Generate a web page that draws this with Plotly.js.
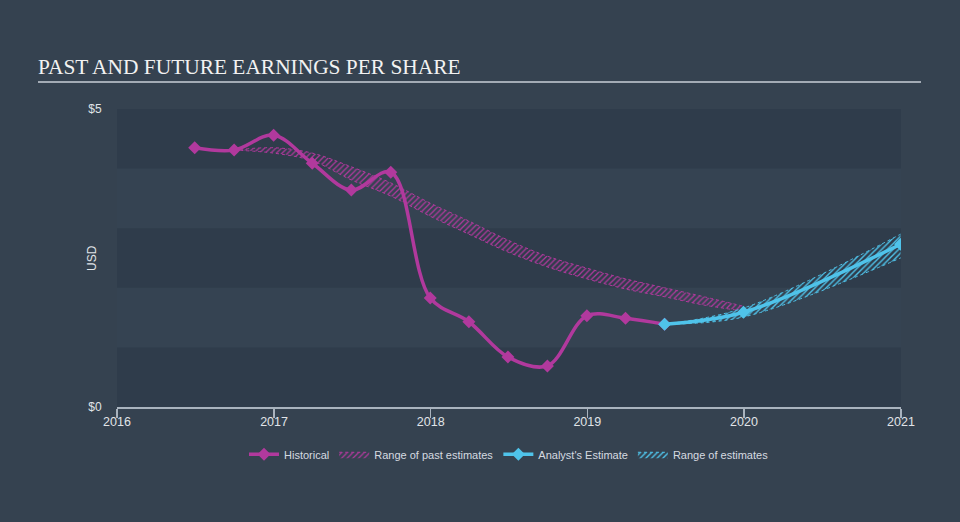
<!DOCTYPE html>
<html>
<head>
<meta charset="utf-8">
<script src="https://cdn.plot.ly/plotly-3.0.1.min.js"></script>
<style>
html,body{margin:0;padding:0;background:#354250;}
#chart{width:960px;height:522px;}
</style>
</head>
<body>
<div id="chart"></div>
<script>
// Historical EPS (quarterly)
const histDates = ['2016-06-30','2016-09-30','2016-12-31','2017-03-31','2017-06-30','2017-09-30','2017-12-31','2018-03-31','2018-06-30','2018-09-30','2018-12-31','2019-03-31','2019-06-30'];
const histEPS   = [4.35, 4.31, 4.56, 4.09, 3.64, 3.94, 1.83, 1.43, 0.84, 0.69, 1.53, 1.49, 1.39];

// Range of past estimates
const pastDates = ['2016-09-30','2016-12-31','2017-03-31','2017-06-30','2017-09-30','2017-12-31','2018-03-31','2018-06-30','2018-09-30','2018-12-31','2019-03-31','2019-06-30','2019-09-30','2019-12-31'];
const pastHigh  = [4.31, 4.35, 4.26, 4.03, 3.76, 3.42, 3.12, 2.80, 2.53, 2.33, 2.15, 2.00, 1.85, 1.69];
const pastLow   = [4.31, 4.26, 4.13, 3.81, 3.54, 3.20, 2.90, 2.60, 2.35, 2.15, 1.98, 1.85, 1.71, 1.61];

// Analyst estimates
const estDates = ['2019-06-30','2019-12-31','2020-12-31'];
const estEPS   = [1.39, 1.59, 2.73];
const estHigh  = [1.39, 1.66, 2.90];
const estLow   = [1.39, 1.51, 2.50];

// Axis ticks
const xTickVals = ['2016-01-01','2017-01-01','2018-01-01','2019-01-01','2020-01-01','2021-01-01'];
const xTickText = ['2016','2017','2018','2019','2020','2021'];
const yTickVals = [0, 5];
const yTickText = ['$0','$5'];
const yTitle = 'USD';
const bandRanges = [[0,1],[2,3],[4,5]];

const PURPLE = '#b1399d';
const BLUE = '#4fc3ea';

const traces = [
  {x: pastDates, y: pastLow, type:'scatter', mode:'lines', line:{color:PURPLE, width:1, dash:'dot', shape:'spline'}, showlegend:false, hoverinfo:'skip'},
  {x: pastDates, y: pastHigh, type:'scatter', mode:'lines', name:'Range of past estimates', legendrank:2,
   line:{color:PURPLE, width:1, dash:'dot', shape:'spline'}, fill:'tonexty', fillcolor:'rgba(0,0,0,0)',
   fillpattern:{shape:'/', fgcolor:PURPLE, bgcolor:'rgba(0,0,0,0)', size:4, solidity:0.3}},
  {x: estDates, y: estLow, type:'scatter', mode:'lines', line:{color:BLUE, width:1, dash:'dot', shape:'spline'}, showlegend:false, hoverinfo:'skip'},
  {x: estDates, y: estHigh, type:'scatter', mode:'lines', name:'Range of estimates', legendrank:4,
   line:{color:BLUE, width:1, dash:'dot', shape:'spline'}, fill:'tonexty', fillcolor:'rgba(0,0,0,0)',
   fillpattern:{shape:'/', fgcolor:BLUE, bgcolor:'rgba(0,0,0,0)', size:4, solidity:0.35}},
  {x: histDates, y: histEPS, type:'scatter', mode:'lines+markers', name:'Historical', legendrank:1,
   line:{color:PURPLE, width:3.5, shape:'spline'}, marker:{symbol:'diamond', size:10, color:PURPLE}},
  {x: estDates, y: estEPS, type:'scatter', mode:'lines+markers', name:"Analyst's Estimate", legendrank:3,
   line:{color:BLUE, width:3.5, shape:'spline'}, marker:{symbol:'diamond', size:10, color:BLUE}}
];

const shapes = bandRanges.map(r => ({type:'rect', xref:'paper', yref:'y', x0:0, x1:1, y0:r[0], y1:r[1],
  fillcolor:'#2f3c4b', line:{width:0}, layer:'below'}));
shapes.push({type:'line', xref:'paper', yref:'paper', x0:(38-117)/784, x1:(921-117)/784, y0:(407-82)/298, y1:(407-82)/298,
  line:{color:'#a3abb5', width:2}});

const layout = {
  width:960, height:522,
  margin:{l:117, r:59, t:109, b:115},
  paper_bgcolor:'#354250',
  plot_bgcolor:'#354352',
  font:{family:'Liberation Sans, Arial, sans-serif', color:'#d5dae0', size:12},
  title:{text:'PAST AND FUTURE EARNINGS PER SHARE', font:{family:'Liberation Serif, Times New Roman, serif', size:21.4, color:'#f2f2f2'},
    xref:'container', yref:'container', x:38/960, xanchor:'left', y:1-67/522, yanchor:'middle'},
  xaxis:{type:'date', range:['2016-01-01','2021-01-01'], tickvals:xTickVals, ticktext:xTickText,
    showgrid:false, zeroline:false, showline:true, linecolor:'#a9b3be', linewidth:1.5,
    ticks:'outside', ticklen:9, tickwidth:1.5, tickcolor:'#a9b3be', tickfont:{size:12.5, color:'#e0e4e8'},
    ticklabelstandoff:-7},
  yaxis:{range:[0,5], tickvals:yTickVals, ticktext:yTickText, showgrid:false, zeroline:false, showline:false,
    ticks:'outside', ticklen:12, tickcolor:'rgba(0,0,0,0)', tickfont:{size:12, color:'#e0e4e8'}},
  annotations:[{text:yTitle, xref:'paper', yref:'paper', x:(92-117)/784, y:(407-258)/298, textangle:-90,
    showarrow:false, xanchor:'center', yanchor:'middle', font:{size:12, color:'#e0e4e8'}}],
  shapes: shapes,
  showlegend:true,
  legend:{orientation:'h', x:0.5, xanchor:'center', y:-0.11, yanchor:'top', font:{size:11, color:'#d5dae0'},
    bgcolor:'rgba(0,0,0,0)', itemwidth:30, traceorder:'normal'}
};

Plotly.newPlot('chart', traces, layout, {displayModeBar:false, staticPlot:true});
</script>
</body>
</html>
